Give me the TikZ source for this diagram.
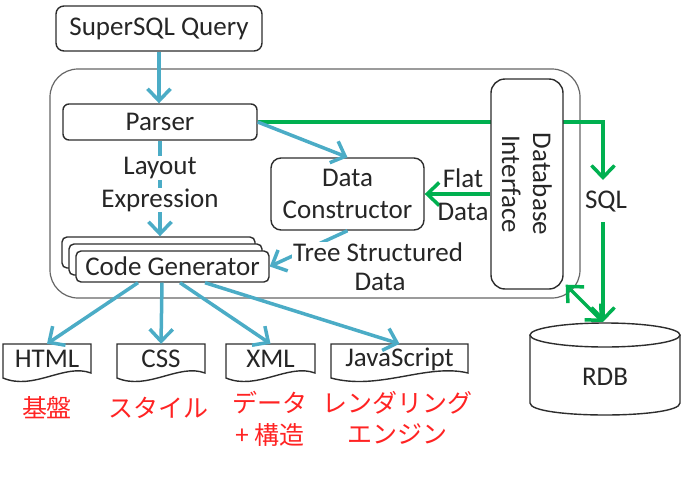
\documentclass[tikz,border=0pt]{standalone}
\usepackage{fontspec}
\setmainfont{Carlito}
\newfontfamily\cjk{Noto Sans CJK JP}
\usetikzlibrary{arrows.meta,calc}
\definecolor{aqua}{RGB}{75,172,198}
\definecolor{grn}{RGB}{0,176,80}
\definecolor{redj}{RGB}{255,35,35}
\definecolor{edge}{RGB}{45,45,45}
\newcommand\mydoc[4]{%
  \draw[docline] (#2,344) -- (#3,344) -- (#3,373)
    .. controls ({#3-0.3*(#3-#2)},363) and ({#2+0.35*(#3-#2)},391) .. (#2,378) -- cycle;
  \node[inner sep=0pt, minimum width={#3-#2}, minimum height=30] (#1) at ({(#2+#3)/2},359) {#4};
}
\begin{document}
\begin{tikzpicture}[x=1pt,y=-1pt,
  every node/.style={font=\fontsize{27}{32}\selectfont, text=black!85},
  box/.style={draw=edge,line width=1.4pt,fill=white,inner sep=0pt},
  tipb/.tip={Straight Barb[length=12pt,width=23pt]},
  bluearrow/.style={draw=aqua,line width=3.5pt,-tipb},
  greenarrow/.style={draw=grn,line width=3.5pt,-tipb},
  greendouble/.style={draw=grn,line width=3.5pt,tipb-tipb},
  lbl/.style={fill=white,inner sep=1pt},
  redlbl/.style={text=redj,font=\cjk\fontsize{25}{30}\selectfont,inner sep=0pt},
  docline/.style={draw=edge,line width=1.4pt,fill=white},
]
\useasboundingbox (0,0) rectangle (689,477);

% outer frame
\node[draw=black!60, line width=1.2pt, rounded corners=28pt, minimum width=530, minimum height=229, inner sep=0pt] (frame) at (315,183.5) {};

\node[box, rounded corners=8pt, minimum width=206, minimum height=45] (query) at (159,28.5) {SuperSQL Query};
\node[box, rounded corners=6pt, minimum width=194, minimum height=36] (parser) at (160,122) {Parser};
\node[box, rounded corners=5pt, minimum width=193, minimum height=31] (cgb) at (158.5,252.5) {};
\node[box, rounded corners=5pt, minimum width=193, minimum height=31] (cgm) at (165.5,259.5) {};
\node[box, rounded corners=5pt, minimum width=193, minimum height=31] (cg) at (172.5,266.5) {Code Generator};
\node[box, rounded corners=10pt, minimum width=153, minimum height=72, align=center, font=\fontsize{27}{32}\selectfont] (dc) at (347.5,194) {Data\\Constructor};

% green line Parser -> SQL
\coordinate (sqltip) at (603,180);
\draw[greenarrow] (parser.east) -| (sqltip);

% database interface
\node[box, rounded corners=14pt, minimum width=72, minimum height=210] (dbi) at (527,184) {};
\node[rotate=-90, align=center, font=\fontsize{27}{31}\selectfont] (dbilabel) at (dbi.center) {Database\\Interface};

% RDB cylinder
\draw[docline] (530,335) -- (530,403) .. controls (530,419) and (680,419) .. (680,403) -- (680,335);
\draw[docline] (605,335) ellipse [x radius=75, y radius=12];
\node (rdb) at (605,377) {RDB};

% SQL
\node[minimum height=40, inner sep=0pt] (sql) at (606,202) {SQL};
\coordinate (rdbtop) at (603,322);
\draw[greenarrow] (sql.south -| rdbtop) -- (rdbtop);
\draw[greendouble] (rdbtop) -- ([shift={(2pt,5pt)}]dbi.south east);

% flat data
\draw[greenarrow] (dbi.west |- dc.east) -- (dc.east);
\node (flat) at (463,178) {Flat};
\node (flatdata) at (463,212) {Data};

% blue arrows
\draw[bluearrow] (query.south) -- (query.south |- parser.north);
\draw[bluearrow] (parser.south) -- (parser.south |- cgb.north);
\node[lbl] (layout) at (160,168) {Layout};
\node[lbl] (expr) at (160,200) {Expression};
\draw[bluearrow] (parser.east) -- (dc.north);
\draw[bluearrow] (dc.south) -- (cg.east);
\node[lbl] (tree) at (378,252) {Tree Structured};
\node[lbl, inner sep=0.5pt] (treedata) at (380,282) {Data};

% output documents
\mydoc{html}{3}{91}{HTML}
\mydoc{css}{117}{205}{CSS}
\mydoc{xml}{226}{315}{XML}
\mydoc{js}{331}{468}{JavaScript}
\draw[bluearrow] ([xshift=-34.5pt]cg.south) -- (html.north);
\draw[bluearrow] ([xshift=-10.5pt]cg.south) -- (css.north);
\draw[bluearrow] ([xshift=7.5pt]cg.south) -- (xml.north);
\draw[bluearrow] ([xshift=32.5pt]cg.south) -- (js.north);

% red labels
\node[redlbl] (kiban) at (47,408) {基盤};
\node[redlbl] (sty) at (158,408) {スタイル};
\node[redlbl] (dat) at (270,403) {データ};
\node[redlbl] (kouzou) at (270,435) {+ 構造};
\node[redlbl] (render) at (397,403) {レンダリング};
\node[redlbl] (engine) at (397,434) {エンジン};
\end{tikzpicture}
\end{document}
